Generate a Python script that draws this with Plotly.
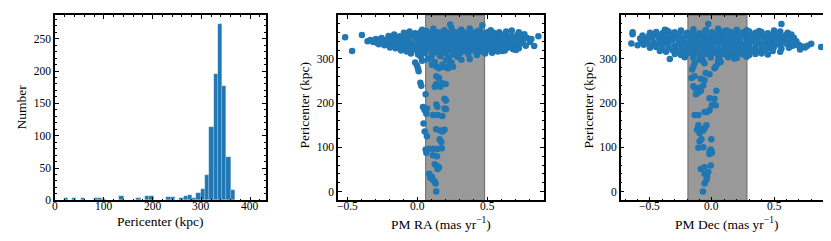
import plotly.graph_objects as go

# ---------------- data ----------------
# histogram of pericenters (42 equal bins between hist_lo and hist_hi)
hist_lo, hist_hi = 0.0, 369.3
hist_counts = [1, 0, 4, 0, 3, 1, 4, 0, 0, 4, 3, 2, 0, 0, 0, 6, 1, 0, 0, 3, 0,
               7, 6, 0, 1, 1, 5, 5, 1, 4, 6, 8, 3, 11, 17, 39, 114, 196, 272,
               177, 67, 16]

# PM RA vs pericenter : dense clump
ra_blob_pm = [
    0.03, 0.11, 0.19, 0.24, 0.31, 0.37, 0.44, 0.52,
    -0.10, -0.06, -0.02, 0.02, 0.06, 0.10, 0.14, 0.18, 0.22, 0.26, 0.30, 0.34, 0.38, 0.42, 0.46, 0.50, 0.54, 0.58, 0.63,
    -0.21, -0.17, -0.13, -0.09, -0.05, -0.01, 0.03, 0.07, 0.11, 0.15, 0.19, 0.23, 0.27, 0.31, 0.35, 0.39, 0.43, 0.47, 0.51, 0.55, 0.59, 0.63, 0.67, 0.71, 0.75,
    -0.30, -0.26, -0.22, -0.18, -0.14, -0.10, -0.06, -0.02, 0.02, 0.06, 0.10, 0.14, 0.18, 0.22, 0.26, 0.30, 0.34, 0.38, 0.42, 0.46, 0.50, 0.54, 0.58, 0.62, 0.66, 0.70, 0.74, 0.78,
    -0.36, -0.32, -0.29, -0.25, -0.21, -0.17, -0.13, -0.09, -0.05, -0.01, 0.03, 0.07, 0.11, 0.15, 0.19, 0.23, 0.27, 0.31, 0.35, 0.39, 0.43, 0.47, 0.51, 0.55, 0.59, 0.63, 0.67, 0.71, 0.75, 0.80,
    -0.28, -0.24, -0.20, -0.16, -0.12, -0.08, -0.04, 0.00, 0.04, 0.08, 0.12, 0.16, 0.20, 0.24, 0.28, 0.32, 0.36, 0.40, 0.44, 0.48, 0.52, 0.56, 0.60, 0.64, 0.68, 0.72, 0.77,
    -0.20, -0.16, -0.12, -0.08, -0.04, 0.00, 0.04, 0.08, 0.12, 0.16, 0.20, 0.24, 0.28, 0.32, 0.36, 0.40, 0.44, 0.48, 0.52, 0.56, 0.60, 0.64, 0.68, 0.72,
    -0.12, -0.08, -0.04, 0.00, 0.04, 0.08, 0.12, 0.16, 0.20, 0.24, 0.28, 0.32, 0.36, 0.40, 0.44, 0.48, 0.52, 0.57, 0.62,
    -0.05, 0.00, 0.05, 0.10, 0.15, 0.20, 0.25, 0.30, 0.36, 0.42, 0.48, 0.53,
    0.02, 0.09, 0.16, 0.22, 0.28,
]
ra_blob_peri = [
    366, 368, 365, 370, 366, 369, 364, 365,
    359, 362, 358, 361, 363, 359, 360, 362, 358, 361, 363, 359, 360, 362, 358, 361, 359, 360, 362,
    352, 355, 351, 354, 353, 356, 352, 354, 351, 355, 353, 352, 356, 354, 351, 353, 355, 352, 354, 351, 356, 353, 352, 354, 351,
    345, 347, 344, 348, 346, 345, 347, 349, 344, 346, 348, 345, 347, 344, 346, 349, 345, 347, 344, 346, 348, 345, 347, 344, 346, 348, 345, 347,
    340, 338, 336, 339, 341, 337, 340, 338, 336, 341, 339, 337, 340, 338, 341, 336, 339, 340, 337, 338, 341, 339, 336, 340, 338, 337, 341, 339, 336, 338,
    333, 331, 334, 330, 332, 333, 331, 329, 334, 332, 330, 333, 331, 334, 329, 332, 333, 330, 331, 334, 332, 330, 333, 331, 329, 332, 330,
    326, 324, 322, 327, 325, 323, 326, 324, 327, 322, 325, 326, 323, 324, 327, 325, 322, 326, 324, 323, 327, 325, 322, 324,
    319, 317, 320, 316, 318, 321, 317, 319, 316, 320, 318, 317, 321, 319, 316, 318, 320, 317, 319,
    312, 310, 313, 309, 311, 312, 310, 313, 311, 309, 312, 314,
    305, 302, 306, 303, 305,
]
# PM RA vs pericenter : outliers and low-pericenter tail
ra_tail_pm = [
    -0.52, -0.47, -0.40, -0.34, 0.23, 0.46, 0.86, 0.83, 0.81, 0.67, 0.76, 0.70, 0.60, 0.72,
    0.13, 0.126, 0.107, 0.088, 0.083, 0.10, 0.12, 0.08,
    0.12, 0.135, 0.15, 0.14, 0.107, 0.136,
    0.055, 0.06, 0.08, 0.11, 0.14, 0.17, 0.155, 0.167,
    0.13, 0.16, 0.19, 0.175, 0.048, 0.064, 0.04,
    0.107, 0.174, 0.14, 0.036, 0.048, 0.064, 0.06, 0.131, 0.138,
    0.19, 0.20, 0.19, 0.20, 0.055,
    0.131, 0.15, 0.131, 0.16, 0.12, 0.174, 0.198, 0.017, 0.024,
    -0.007, 0.0, 0.005, 0.10, 0.13, 0.15, 0.174, 0.19, 0.214, 0.226, 0.25,
    -0.02, 0.03, 0.07, 0.12, 0.20, 0.24, 0.31, 0.37,
]
ra_tail_peri = [
    349, 318, 354, 343, 378, 376, 351, 329, 345, 364, 356, 320, 318, 360,
    0, 18, 26, 31, 38, 33, 22, 40,
    62, 58, 55, 51, 82, 80,
    95, 88, 97, 97, 96, 98, 118, 112,
    141, 138, 140, 136, 136, 125, 154,
    173, 171, 173, 191, 184, 188, 176, 197, 192,
    210, 206, 188, 186, 220,
    261, 257, 243, 237, 237, 245, 243, 246, 239,
    285, 278, 272, 287, 283, 279, 287, 281, 279, 285, 282,
    292, 296, 299, 293, 297, 292, 298, 300,
]

# PM Dec vs pericenter : dense clump
dec_blob_pm = [
    -0.38, -0.25, -0.15, -0.05, 0.05, 0.12, 0.20, 0.28, 0.38, 0.50,
    -0.50, -0.45, -0.40, -0.35, -0.30, -0.25, -0.20, -0.15, -0.10, -0.05, 0.00, 0.05, 0.10, 0.15, 0.20, 0.25, 0.30, 0.35, 0.40, 0.45, 0.50, 0.55, 0.61,
    -0.56, -0.51, -0.46, -0.41, -0.36, -0.31, -0.26, -0.21, -0.16, -0.11, -0.06, -0.01, 0.04, 0.09, 0.14, 0.19, 0.24, 0.29, 0.34, 0.39, 0.44, 0.49, 0.54, 0.59, 0.64,
    -0.58, -0.53, -0.48, -0.43, -0.38, -0.33, -0.28, -0.23, -0.18, -0.13, -0.08, -0.03, 0.02, 0.07, 0.12, 0.17, 0.22, 0.27, 0.32, 0.37, 0.42, 0.47, 0.52, 0.57, 0.62, 0.66,
    -0.57, -0.52, -0.47, -0.42, -0.37, -0.32, -0.27, -0.22, -0.17, -0.12, -0.07, -0.02, 0.03, 0.08, 0.13, 0.18, 0.23, 0.28, 0.33, 0.38, 0.43, 0.48, 0.53, 0.58, 0.63, 0.68,
    -0.55, -0.50, -0.45, -0.40, -0.35, -0.30, -0.25, -0.20, -0.15, -0.10, -0.05, 0.00, 0.05, 0.10, 0.15, 0.20, 0.25, 0.30, 0.35, 0.40, 0.45, 0.50, 0.55, 0.60, 0.65, 0.70,
    -0.50, -0.45, -0.40, -0.35, -0.30, -0.25, -0.20, -0.15, -0.10, -0.05, 0.00, 0.05, 0.10, 0.15, 0.20, 0.25, 0.30, 0.35, 0.40, 0.45, 0.50, 0.56, 0.62,
    -0.42, -0.37, -0.32, -0.27, -0.22, -0.17, -0.12, -0.07, -0.02, 0.03, 0.08, 0.13, 0.18, 0.23, 0.28, 0.33, 0.38, 0.43, 0.49, 0.55,
    -0.30, -0.25, -0.20, -0.15, -0.10, -0.05, 0.00, 0.05, 0.10, 0.15, 0.20, 0.25, 0.30, 0.35, 0.40, 0.45,
    -0.22, -0.15, -0.08, -0.01, 0.06, 0.13, 0.20, 0.28,
]
dec_blob_peri = [
    366, 364, 367, 365, 368, 364, 366, 365, 363, 364,
    359, 361, 358, 362, 360, 363, 359, 361, 358, 362, 360, 359, 363, 361, 358, 360, 362, 359, 361, 358, 360, 362, 359,
    353, 351, 355, 352, 354, 356, 351, 353, 355, 352, 354, 351, 356, 353, 352, 354, 355, 351, 353, 356, 352, 354, 351, 353, 355,
    346, 344, 347, 349, 345, 346, 348, 344, 347, 345, 349, 346, 344, 348, 345, 347, 346, 349, 344, 346, 348, 345, 347, 344, 346, 348,
    339, 341, 337, 340, 338, 342, 339, 336, 340, 338, 341, 337, 339, 342, 338, 340, 336, 339, 341, 337, 340, 338, 342, 339, 337, 340,
    332, 330, 334, 331, 333, 329, 332, 334, 330, 333, 331, 329, 334, 332, 330, 333, 331, 334, 329, 332, 330, 333, 331, 334, 330, 332,
    325, 327, 323, 326, 324, 322, 326, 324, 327, 323, 325, 322, 326, 324, 327, 323, 325, 322, 326, 324, 327, 323, 325,
    318, 316, 320, 317, 319, 315, 318, 320, 316, 319, 317, 320, 315, 318, 316, 319, 317, 320, 318, 316,
    311, 309, 312, 310, 308, 311, 313, 309, 311, 308, 312, 310, 309, 311, 312, 310,
    304, 302, 305, 303, 301, 304, 302, 305,
]
# PM Dec vs pericenter : outliers and low-pericenter tail
dec_tail_pm = [
    -0.65, -0.64, -0.64, -0.60, -0.37, -0.05, -0.03, 0.56, 0.88, 0.80, 0.75, 0.71, 0.69, 0.73, 0.77,
    -0.34, -0.22, 0.18,
    -0.073, -0.06, -0.045, -0.04, -0.06, -0.03,
    -0.09, -0.06, -0.01,
    -0.02, -0.005, -0.01, 0.0, -0.02,
    -0.11, -0.07, -0.10, -0.085, -0.005,
    -0.10, -0.085, -0.07, -0.06, -0.045, -0.12, -0.11,
    -0.14, -0.11,
    -0.06, -0.02, -0.04, 0.0, 0.01, 0.03,
    0.02, -0.02, 0.035,
    -0.13, -0.11, -0.09, -0.10, -0.07, -0.15, -0.14,
    -0.165, -0.14, -0.09, -0.06,
    -0.05, -0.02,
    0.03, 0.05, 0.02,
    -0.16, -0.15, -0.14,
    -0.10, -0.07, -0.06,
    0.05, 0.07,
]
dec_tail_peri = [
    335, 360, 356, 331, 365, 365, 379, 379, 327, 334, 326, 321, 331, 328, 330,
    300, 305, 301,
    0, 18, 26, 33, 40, 44,
    51, 55, 59,
    85, 92, 95, 88, 90,
    99, 100, 114, 118, 118,
    132, 140, 138, 143, 150, 140, 150,
    173, 173,
    180, 184, 180, 195, 196, 195,
    210, 211, 228,
    220, 224, 228, 235, 240, 238, 235,
    257, 261, 255, 252,
    268, 265,
    283, 290, 279,
    276, 283, 290,
    298, 294, 290,
    297, 293,
]

# shaded ranges
ra_band = [0.055, 0.476]
dec_band = [-0.194, 0.282]

# tick labels
hist_x_ticks = [0, 100, 200, 300, 400]
hist_x_text = ["0", "100", "200", "300", "400"]
hist_y_ticks = [0, 50, 100, 150, 200, 250]
peri_ticks = [0, 100, 200, 300]
pm_ticks = [-0.5, 0.0, 0.5]
pm_tick_text = ["\u22120.5", "0.0", "0.5"]

# ---------------- figure ----------------
BLUE = "#1f77b4"
FONT = "Liberation Serif, Times New Roman, serif"
W, H = 831, 241

nb = len(hist_counts)
bw = (hist_hi - hist_lo) / nb
centers = [hist_lo + bw * (i + 0.5) for i in range(nb)]

fig = go.Figure()
fig.add_trace(go.Bar(x=centers, y=hist_counts, width=bw,
                     marker=dict(color=BLUE, line=dict(color="rgba(255,255,255,0.35)", width=0.5)),
                     xaxis="x", yaxis="y", showlegend=False))

mk = dict(color=BLUE, size=6.5, line=dict(width=0))
fig.add_trace(go.Scatter(x=ra_blob_pm + ra_tail_pm, y=ra_blob_peri + ra_tail_peri,
                         mode="markers", marker=mk, xaxis="x2", yaxis="y2", showlegend=False))
fig.add_trace(go.Scatter(x=dec_blob_pm + dec_tail_pm, y=dec_blob_peri + dec_tail_peri,
                         mode="markers", marker=mk, xaxis="x3", yaxis="y3", showlegend=False))

for xr, band in (("x2", ra_band), ("x3", dec_band)):
    yr = "y2 domain" if xr == "x2" else "y3 domain"
    fig.add_shape(type="rect", xref=xr, yref=yr, x0=band[0], x1=band[1], y0=0, y1=1,
                  fillcolor="rgb(153,153,153)", line=dict(color="rgb(105,105,105)", width=1),
                  layer="below")


def ax(domain, rng, tickvals, minor_dtick, anchor, labels=True):
    return dict(domain=domain, range=rng, showgrid=False, zeroline=False,
                showline=True, linecolor="black", linewidth=1.5, mirror="ticks",
                ticks="inside", ticklen=4, tickwidth=1.2, tickcolor="black",
                tickvals=tickvals, showticklabels=labels,
                tickfont=dict(family=FONT, size=11.5, color="black"),
                minor=dict(ticks="inside", ticklen=2, tickwidth=0.8, tickcolor="black",
                           dtick=minor_dtick, showgrid=False),
                anchor=anchor)


yd = [1 - 197.3 / H, 1 - 7.3 / H]
fig.update_layout(
    width=W, height=H, margin=dict(l=0, r=0, t=0, b=0),
    paper_bgcolor="white", plot_bgcolor="white", bargap=0,
    xaxis=ax([47 / W, 258 / W], [0, 432.8], hist_x_ticks, 20, "y", labels=False),
    yaxis=ax(yd, [0, 286.5], hist_y_ticks, 10, "x"),
    xaxis2=ax([330 / W, 535.7 / W], [-0.571, 0.898], pm_ticks, 0.1, "y2", labels=False),
    yaxis2=ax(yd, [-20, 399], peri_ticks, 20, "x2"),
    xaxis3=ax([612.7 / W, 823.3 / W], [-0.736, 0.962], pm_ticks, 0.1, "y3", labels=False),
    yaxis3=ax(yd, [-20, 399], peri_ticks, 20, "x3"),
)

# x tick labels placed just under each axis
tick_font = dict(family=FONT, size=11.5, color="black")
for xref, vals, texts in (("x", hist_x_ticks, hist_x_text),
                          ("x2", pm_ticks, pm_tick_text),
                          ("x3", pm_ticks, pm_tick_text)):
    for v, t in zip(vals, texts):
        fig.add_annotation(text=t, x=v, y=1 - 203.5 / H, xref=xref, yref="paper",
                           xanchor="center", yanchor="middle", showarrow=False,
                           font=tick_font)

tf = dict(family=FONT, size=13.5, color="black")
ann = [
    ("Pericenter (kpc)", 152, 219, 0),
    ("PM RA (mas yr<sup>\u22121</sup>)", 433, 221, 0),
    ("PM Dec (mas yr<sup>\u22121</sup>)", 718, 221, 0),
    ("Number", 13, 102, -90),
    ("Pericenter (kpc)", 297, 100, -90),
    ("Pericenter (kpc)", 581, 100, -90),
]
for txt, px, py, rot in ann:
    fig.add_annotation(text=txt, x=px / W, y=1 - py / H, xref="paper", yref="paper",
                       xanchor="center", yanchor="middle", showarrow=False,
                       textangle=rot, font=tf)

fig.write_html("out.html")
